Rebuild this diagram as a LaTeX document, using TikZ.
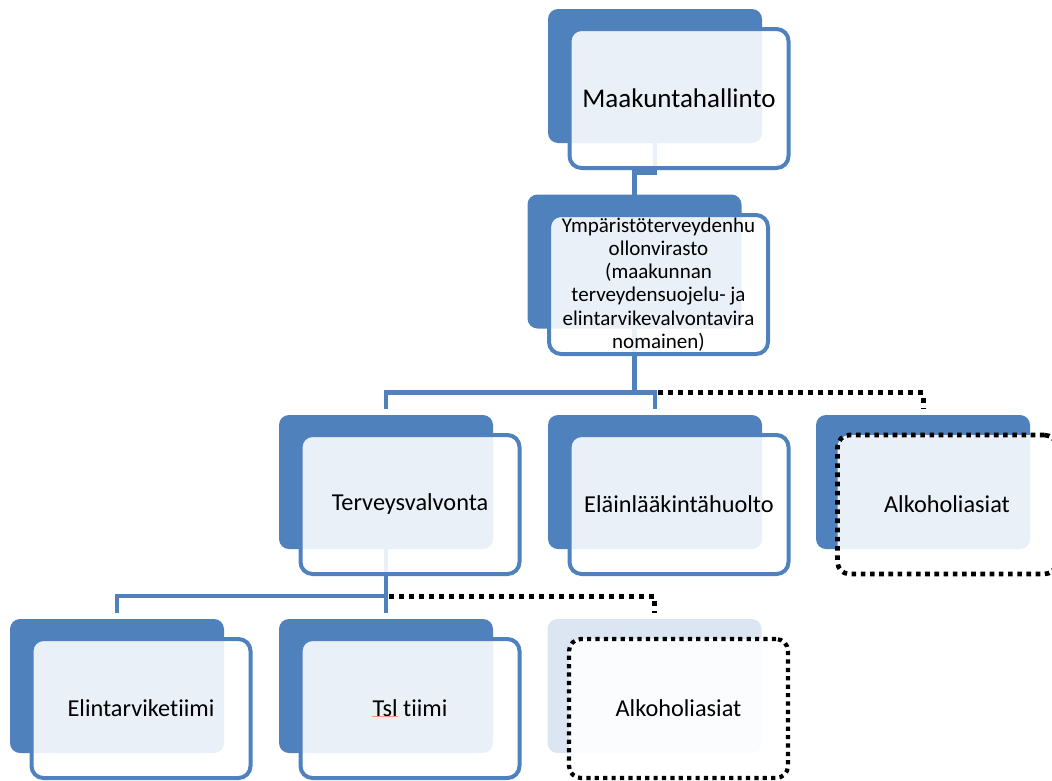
\documentclass[tikz,border=0pt]{standalone}
\usepackage{fontspec}
\setmainfont{Carlito}[Ligatures=NoCommon]
\usetikzlibrary{calc}
\definecolor{ablue}{HTML}{4F81BD}
\pgfdeclarelayer{bg}
\pgfsetlayers{bg,main}
\begin{document}
\begin{tikzpicture}[x=1pt,y=-1pt,
  back/.style={rectangle, rounded corners=10pt, fill=ablue, minimum width=214pt, minimum height=134pt, inner sep=0pt, outer sep=0pt},
  fadeback/.style={back, fill=ablue!20},
  front/.style={rectangle, rounded corners=12pt, draw=ablue, line width=4pt, fill=white, fill opacity=0.885, text opacity=1, minimum width=219pt, minimum height=139pt, inner sep=0pt, outer sep=0pt, font=\fontsize{24.3}{29}\selectfont, align=center},
  dotfront/.style={front, draw=black, line width=4.6pt, dash pattern=on 4.6pt off 4.6pt},
  conn/.style={draw=ablue, line width=4.5pt},
  dotconn/.style={draw=black, line width=5pt, dash pattern=on 5pt off 5pt},
  squiggle/.style={draw=red!45, line width=0.6pt}
]
\useasboundingbox (0,0) rectangle (1052,780);
\clip (0,0) rectangle (1052,780);

% Level 1
\node[back] (b1) at (655,76) {};
\node[front, font=\fontsize{27}{31}\selectfont] (f1) at ($(b1)+(24,22.5)$) {Maakuntahallinto};

% Level 2
\node[back] (b2) at (634.5,261.5) {};
\node[front, font=\fontsize{21}{23.2}\selectfont] (f2) at ($(b2)+(24,23)$) {Ympäristöterveydenhu\\ollonvirasto\\(maakunnan\\terveydensuojelu- ja\\elintarvikevalvontavira\\nomainen)};

% Level 3
\node[back] (b3a) at (386,482) {};
\node[front] (f3a) at ($(b3a)+(24,22.5)$) {Terveysvalvonta};
\node[back] (b3b) at (655,482) {};
\node[front] (f3b) at ($(b3b)+(24,22.5)$) {Eläinlääkintähuolto};
\node[back] (b3c) at (923,482) {};
\node[dotfront] (f3c) at ($(b3c)+(24,22.5)$) {Alkoholiasiat};

% Level 4
\node[back] (b4a) at (117,686) {};
\node[front] (f4a) at ($(b4a)+(24,22.5)$) {Elintarviketiimi};
\node[back] (b4b) at (386,686) {};
\node[front] (f4b) at ($(b4b)+(24,22.5)$) {Tsl tiimi};
\node[fadeback] (b4c) at (654.5,686) {};
\node[dotfront, line width=4.2pt, dash pattern=on 4.2pt off 4.2pt] (f4c) at ($(b4c)+(24,22.5)$) {Alkoholiasiat};
\draw[squiggle] ($(f4b.center)+(-38,7.5)$) -- ++(26,0);

% Connectors
\begin{pgfonlayer}{bg}
\draw[conn] (b1.south) -- ++(0,29.5) -| (b2.north);
\coordinate (j2) at ($(b2.south)+(0,64)$);
\draw[conn] (b2.south) -- (j2);
\draw[conn, shorten <=6pt, shorten >=6pt] (b3a.north) |- (j2) -| (b3b.north);
\draw[dotconn, shorten >=6pt] ($(b3b.north |- j2)+(3,0)$) -| (b3c.north);
\coordinate (j3) at ($(b3a.south)+(0,47)$);
\draw[conn] (b3a.south) -- (j3);
\draw[conn, shorten <=6pt, shorten >=6pt] (b4a.north) |- (j3) -- (b4b.north);
\draw[dotconn, shorten >=6pt] ($(j3)+(3,0)$) -| (b4c.north);
\end{pgfonlayer}
\end{tikzpicture}
\end{document}
